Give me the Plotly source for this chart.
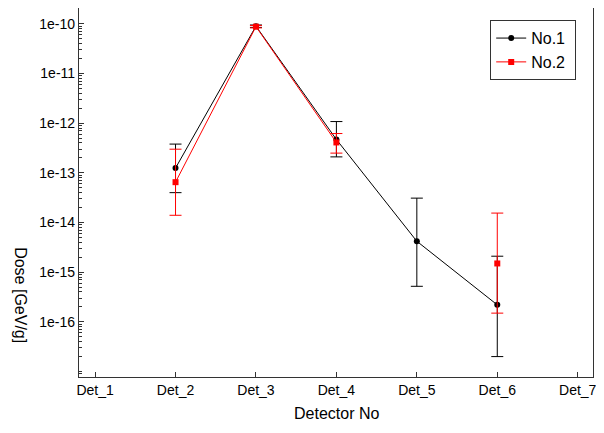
import plotly.graph_objects as go

categories = ["Det_1", "Det_2", "Det_3", "Det_4", "Det_5", "Det_6", "Det_7"]

no1_x = ["Det_2", "Det_3", "Det_4", "Det_5", "Det_6"]
no1_y = [1.25e-13, 9.0e-11, 4.7e-13, 4.2e-15, 2.2e-16]
no1_hi = [3.8e-13, 9.5e-11, 1.08e-12, 3.1e-14, 2.1e-15]
no1_lo = [4.0e-14, 8.5e-11, 2.1e-13, 5.2e-16, 2.0e-17]

no2_x = ["Det_2", "Det_3", "Det_4", "Det_5", "Det_6"]
no2_y = [6.5e-14, 8.8e-11, 4.1e-13, None, 1.5e-15]
no2_hi = [3.0e-13, 9.3e-11, 6.2e-13, None, 1.55e-14]
no2_lo = [1.4e-14, 8.3e-11, 2.5e-13, None, 1.5e-16]

ytick_vals = [1e-16, 1e-15, 1e-14, 1e-13, 1e-12, 1e-11, 1e-10]
ytick_text = ["1e-16", "1e-15", "1e-14", "1e-13", "1e-12", "1e-11", "1e-10"]


def err(y, hi, lo):
    up = [None if v is None else h - v for v, h in zip(y, hi)]
    dn = [None if v is None else v - l for v, l in zip(y, lo)]
    return up, dn


u1, d1 = err(no1_y, no1_hi, no1_lo)
u2, d2 = err(no2_y, no2_hi, no2_lo)

FONT = "Liberation Sans, Arial, sans-serif"

fig = go.Figure()
fig.add_trace(go.Scatter(
    x=no1_x, y=no1_y, name="No.1\u00a0", mode="lines+markers",
    line=dict(color="black", width=1),
    marker=dict(symbol="circle", size=6, color="black"),
    error_y=dict(type="data", symmetric=False, array=u1, arrayminus=d1,
                 color="black", thickness=1, width=6),
))
fig.add_trace(go.Scatter(
    x=no2_x, y=no2_y, name="No.2\u00a0", mode="lines+markers",
    line=dict(color="red", width=1),
    marker=dict(symbol="square", size=6, color="red"),
    error_y=dict(type="data", symmetric=False, array=u2, arrayminus=d2,
                 color="red", thickness=1, width=6),
    connectgaps=False,
))

axis_font = dict(family=FONT, size=14, color="black")

fig.update_layout(
    width=596, height=425,
    margin=dict(l=71, r=11, t=0, b=56, autoexpand=False),
    paper_bgcolor="white", plot_bgcolor="white",
    font=axis_font,
    showlegend=True,
    legend=dict(x=0.80, y=0.967, xanchor="left", yanchor="top",
                bordercolor="#333", borderwidth=1, bgcolor="white",
                font=dict(family=FONT, size=16, color="black"),
                tracegroupgap=0, itemwidth=30),
    xaxis=dict(
        type="category", categoryorder="array", categoryarray=categories,
        range=[-0.2, 6.19],
        showline=True, linecolor="#333", linewidth=1.2, mirror=True,
        ticks="inside", ticklen=5, tickcolor="#333",
        showgrid=False, zeroline=False,
        tickfont=axis_font,
    ),
    yaxis=dict(
        type="log", range=[-17.11, -9.68],
        tickvals=ytick_vals, ticktext=ytick_text,
        showline=True, linecolor="#333", linewidth=1.2, mirror=True,
        ticks="inside", ticklen=5, tickcolor="#333",
        minor=dict(ticks="inside", ticklen=3, tickcolor="#333", dtick="D1", showgrid=False),
        showgrid=False, zeroline=False,
        tickfont=axis_font,
    ),
    annotations=[
        dict(text="Detector No", xref="paper", yref="paper", x=0.5, y=-0.0976,
             xanchor="center", yanchor="middle", showarrow=False,
             font=dict(family=FONT, size=16, color="black")),
        dict(text="Dose [GeV/g]", xref="paper", yref="paper", x=-0.113, y=0.222,
             xanchor="center", yanchor="middle", showarrow=False, textangle=90,
             font=dict(family=FONT, size=16, color="black")),
    ],
)

fig.write_html("out.html")
